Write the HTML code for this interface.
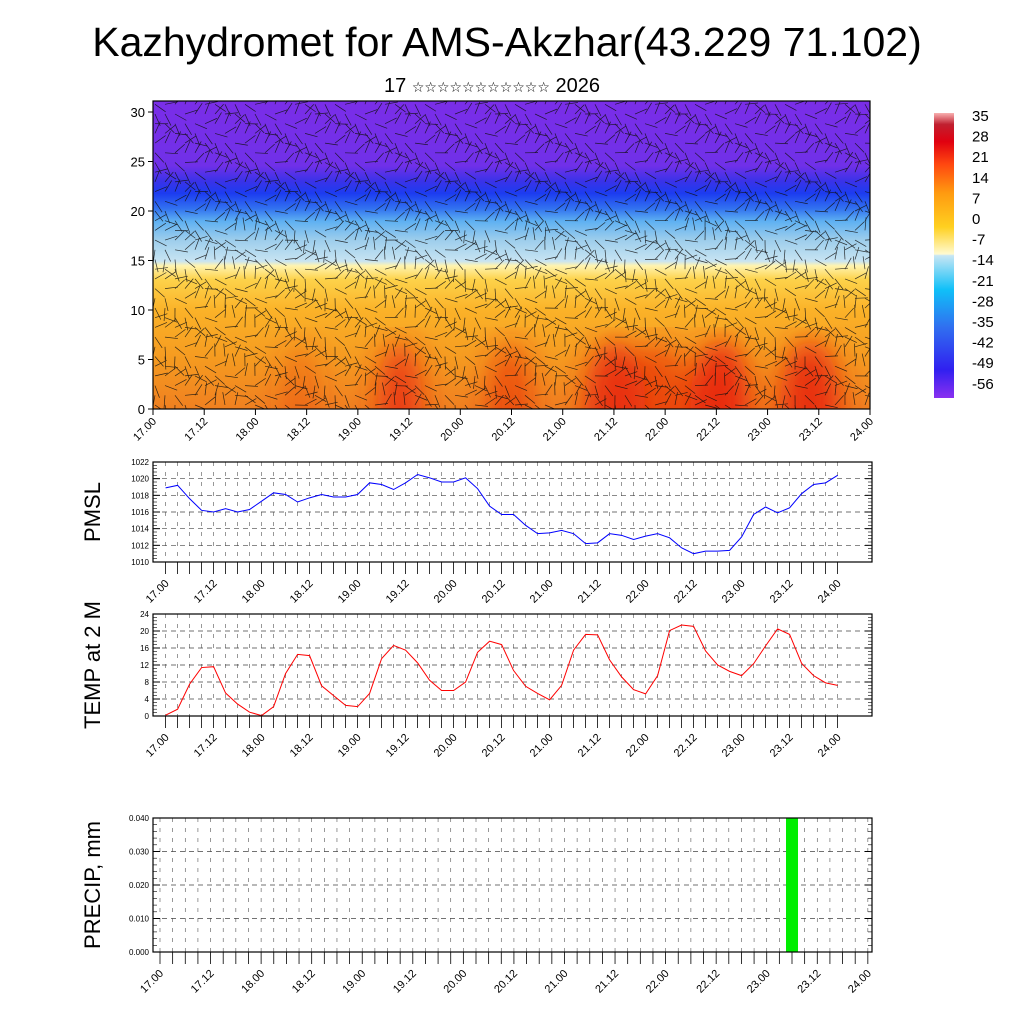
<!DOCTYPE html>
<html><head><meta charset="utf-8"><style>
body{margin:0;background:#fff;width:1024px;height:1024px;overflow:hidden;font-family:"Liberation Sans","Noto Sans CJK SC",sans-serif}
</style></head><body>
<svg id="svg" width="1024" height="1024" xmlns="http://www.w3.org/2000/svg" font-family="Liberation Sans, DejaVu Sans, sans-serif">
<defs>
<linearGradient id="vg" x1="0" y1="1" x2="0" y2="0">
<stop offset="0" stop-color="#f08020"/>
<stop offset="0.16" stop-color="#f59a20"/>
<stop offset="0.32" stop-color="#fbb228"/>
<stop offset="0.42" stop-color="#fdd24a"/>
<stop offset="0.465" stop-color="#fff4b0"/>
<stop offset="0.48" stop-color="#c8e4f2"/>
<stop offset="0.55" stop-color="#9ccdec"/>
<stop offset="0.61" stop-color="#5eb0f2"/>
<stop offset="0.65" stop-color="#3272f0"/>
<stop offset="0.70" stop-color="#1c3cf0"/>
<stop offset="0.74" stop-color="#3a32e8"/>
<stop offset="0.79" stop-color="#7030e8"/>
<stop offset="1" stop-color="#7a2ee8"/>
</linearGradient>
<linearGradient id="cb" x1="0" y1="1" x2="0" y2="0">
<stop offset="0" stop-color="#8a30f0"/>
<stop offset="0.1" stop-color="#3020f0"/>
<stop offset="0.25" stop-color="#3070f0"/>
<stop offset="0.38" stop-color="#10c0f8"/>
<stop offset="0.5" stop-color="#c8e6f4"/>
<stop offset="0.505" stop-color="#fffad0"/>
<stop offset="0.6" stop-color="#ffd020"/>
<stop offset="0.72" stop-color="#ff9a10"/>
<stop offset="0.82" stop-color="#ff4810"/>
<stop offset="0.9" stop-color="#e00010"/>
<stop offset="0.96" stop-color="#c02030"/>
<stop offset="1" stop-color="#f8b0b0"/>
</linearGradient>
<filter id="bl"><feGaussianBlur stdDeviation="14"/></filter>
<clipPath id="cp"><rect x="153" y="101" width="717" height="308"/></clipPath>
</defs>
<text x="507" y="56" font-size="41" text-anchor="middle">Kazhydromet for AMS-Akzhar(43.229 71.102)</text>
<text x="492" y="92" font-size="20" text-anchor="middle">17 <tspan font-size="14">☆☆☆☆☆☆☆☆☆☆☆</tspan> 2026</text>
<g>
<rect x="153" y="101" width="717" height="308" fill="url(#vg)"/>
<g id="warm" clip-path="url(#cp)" filter="url(#bl)"></g>
<g id="barbs" clip-path="url(#cp)" stroke="#111" stroke-width="0.7" opacity="0.85"></g>
<rect x="153" y="101" width="717" height="308" fill="none" stroke="#000" stroke-width="1.2"/>
<g id="topax"></g>
</g>
<g>
<rect x="934" y="113" width="20" height="285" fill="url(#cb)"/>
<g id="cblab" font-size="15"></g>
</g>
<g id="pmsl"></g>
<g id="temp"></g>
<g id="prec"></g>
</svg>
<script>
const timeLabels=["17.00","17.12","18.00","18.12","19.00","19.12","20.00","20.12","21.00","21.12","22.00","22.12","23.00","23.12","24.00"];
const pmslVals=[1018.9,1019.2,1017.6,1016.2,1016.0,1016.4,1016.0,1016.3,1017.3,1018.3,1018.1,1017.2,1017.7,1018.1,1017.8,1017.8,1018.1,1019.5,1019.3,1018.7,1019.5,1020.5,1020.1,1019.6,1019.6,1020.1,1018.8,1016.7,1015.7,1015.7,1014.4,1013.4,1013.5,1013.8,1013.4,1012.2,1012.3,1013.4,1013.2,1012.7,1013.1,1013.4,1012.9,1011.7,1011.0,1011.3,1011.3,1011.4,1013.0,1015.7,1016.6,1015.9,1016.5,1018.2,1019.3,1019.5,1020.4];
const tempVals=[0.2,1.6,7.5,11.4,11.6,5.4,2.8,0.9,0.1,2.2,10,14.5,14.2,7.1,4.8,2.5,2.2,5.3,13.5,16.6,15.5,12.5,8.4,6,6,8,15,17.6,16.8,10.7,7,5.3,3.8,7.2,15.5,19.2,19.1,13.2,9.2,6.2,5.2,9.5,20.1,21.4,21.1,15.3,12,10.5,9.5,12.3,16.5,20.5,19.2,12.4,9.5,7.8,7.2];
const precVals=[0,0,0,0,0,0,0,0,0,0,0,0,0,0,0,0,0,0,0,0,0,0,0,0,0,0,0,0,0,0,0,0,0,0,0,0,0,0,0,0,0,0,0,0,0,0,0,0,0,0,0.04,0,0,0,0,0,0];
const pmslTicks=[1010,1012,1014,1016,1018,1020,1022];
const tempTicks=[0,4,8,12,16,20,24];
const precTicks=["0.000","0.010","0.020","0.030","0.040"];
const topTicks=[0,5,10,15,20,25,30];
const cbLabels=["35","28","21","14","7","0","-7","-14","-21","-28","-35","-42","-49","-56"];
const NS="http://www.w3.org/2000/svg";
function mk(p,t,a,txt){const e=document.createElementNS(NS,t);for(const k in a)e.setAttribute(k,a[k]);if(txt!==undefined)e.textContent=txt;p.appendChild(e);return e;}
(function(){
const topG=document.getElementById('topax');
const ty=v=>409-v*9.9;
topTicks.forEach(v=>{mk(topG,'line',{x1:148,x2:153,y1:ty(v),y2:ty(v),stroke:'#000'});
 const t=mk(topG,'text',{x:145,y:ty(v)+5,'font-size':13,'text-anchor':'end'},v);
 
 });
timeLabels.forEach((l,i)=>{const x=153+i*717/14;mk(topG,'line',{x1:x,x2:x,y1:409,y2:415,stroke:'#000'});
 const t=mk(topG,'text',{x:x+4,y:422,'font-size':11,'text-anchor':'end',transform:`rotate(-45 ${x+4} 422)`},l);
 
 });
const warm=document.getElementById('warm');
[[400,22,0.8],[510,22,0.6],[615,30,0.9],[720,30,1],[810,30,0.95],[300,20,0.3],[660,30,0.6]].forEach(w=>{
 mk(warm,'ellipse',{cx:w[0],cy:405,rx:w[1],ry:65,fill:'#e82a0a',opacity:w[2]});});
const barbs=document.getElementById('barbs');
for(let r=0;r<32;r++)for(let c=0;c<72;c++){const x=155+c*10,y=405-r*9.7;
 const a=Math.sin(c*0.7+r*1.3)*1.2+(r>18?0:Math.cos(c*0.4)*0.6);const L=13;
 mk(barbs,'line',{x1:x,y1:y,x2:x+L*Math.cos(a),y2:y+L*Math.sin(a)});}
const cbl=document.getElementById('cblab');
cbLabels.forEach((l,i)=>{const t=mk(cbl,'text',{x:972,y:121+i*20.6},l);
 
 });
})();
function panel(gid,y0,y1,ticks,vals,color,title,x0,xs,isBar,ylab){
 const g=document.getElementById(gid);const L=153,R=872;
 const vmin=+ticks[0],vmax=+ticks[ticks.length-1];
 const Y=v=>y1-(v-vmin)/(vmax-vmin)*(y1-y0);const X=i=>x0+i*xs;
 for(let i=0;i<57;i++){mk(g,'line',{x1:X(i),x2:X(i),y1:y0,y2:y1,stroke:'#555','stroke-width':0.6,'stroke-dasharray':'4 6'});
  mk(g,'line',{x1:X(i),x2:X(i),y1:y1,y2:y1+12,stroke:'#000','stroke-width':0.8});}
 ticks.forEach((v,k)=>{const y=Y(+v);if(k>0&&k<ticks.length-1)mk(g,'line',{x1:L,x2:R,y1:y,y2:y,stroke:'#444','stroke-width':0.7,'stroke-dasharray':'5 4'});
  mk(g,'line',{x1:L,x2:L+7,y1:y,y2:y,stroke:'#000'});mk(g,'line',{x1:R-7,x2:R,y1:y,y2:y,stroke:'#000'});
  const t=mk(g,'text',{x:L-4,y:y+3,'font-size':8,'text-anchor':'end'},v);
  
  });
 for(let k=0;k<ticks.length-1;k++)for(let m=1;m<5;m++){const y=Y(+ticks[k]+(ticks[k+1]-ticks[k])*m/5);
  mk(g,'line',{x1:L,x2:L+4,y1:y,y2:y,stroke:'#000','stroke-width':0.6});mk(g,'line',{x1:R-4,x2:R,y1:y,y2:y,stroke:'#000','stroke-width':0.6});}
 if(isBar){vals.forEach((v,i)=>{if(v>0){const b=mk(g,'rect',{x:X(i)-6,y:Y(v),width:12,height:y1-Y(v),fill:'#00ee00'});
  
  }});}
 else{const p=mk(g,'polyline',{points:vals.map((v,i)=>X(i)+','+Y(v)).join(' '),fill:'none',stroke:color,'stroke-width':1});
  
  }
 mk(g,'rect',{x:L,y:y0,width:R-L,height:y1-y0,fill:'none',stroke:'#000','stroke-width':1.2});
 timeLabels.forEach((l,i)=>{const x=X(i*4)+4,y=y1+22;const t=mk(g,'text',{x:x,y:y,'font-size':11,'text-anchor':'end',transform:`rotate(-45 ${x} ${y})`},l);
  
  });
 const cy=(y0+y1)/2;const t=mk(g,'text',{x:ylab,y:cy,'font-size':22,'text-anchor':'middle',transform:`rotate(-90 ${ylab} ${cy})`},title);
 
 
}
panel('pmsl',462,562,pmslTicks,pmslVals,'#0000ff','PMSL',165.6,12.0,false,100);
panel('temp',614,716,tempTicks,tempVals,'#ff0000','TEMP at 2 M',165.6,12.0,false,100);
panel('prec',818,952,precTicks,precVals,'#00ee00','PRECIP, mm',160,12.64,true,100);
</script>
</body></html>
